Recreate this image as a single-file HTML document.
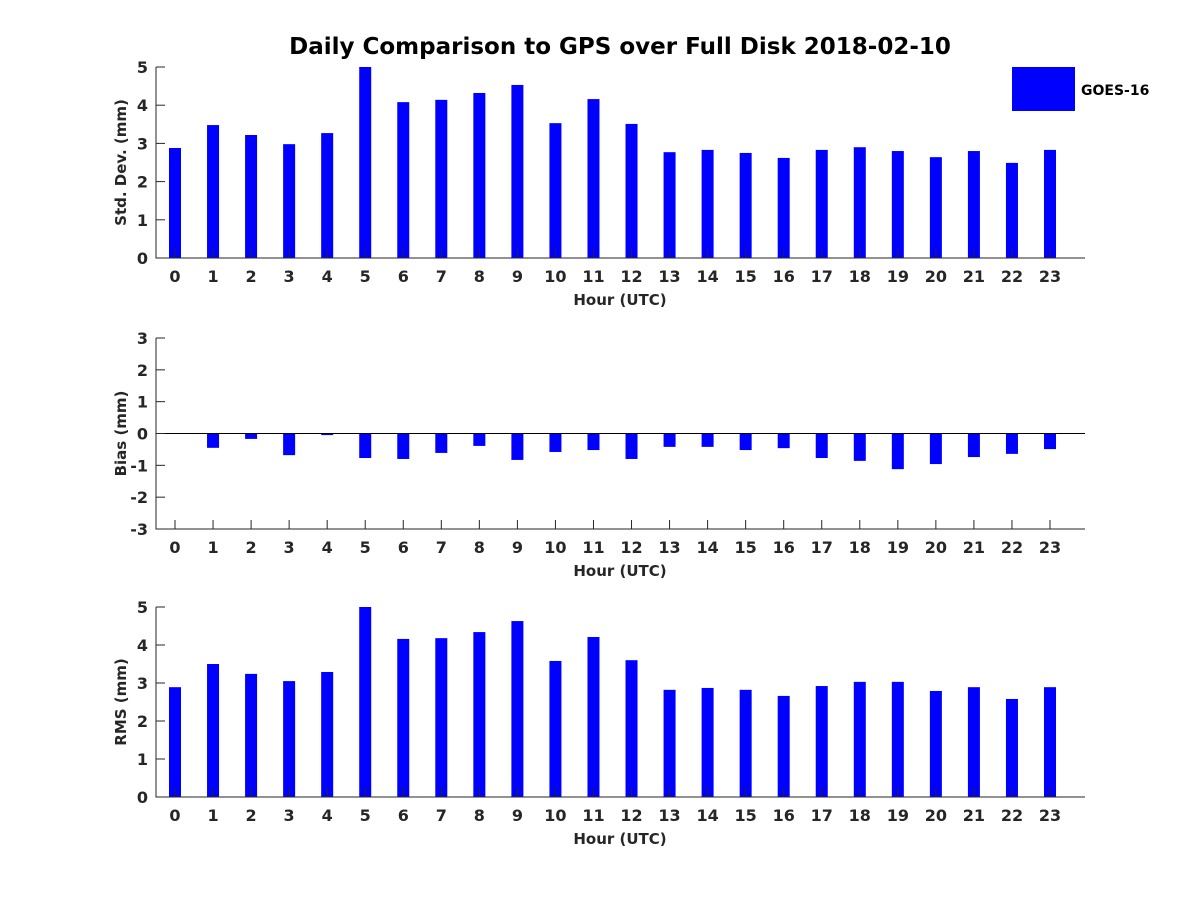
<!DOCTYPE html>
<html><head><meta charset="utf-8"><style>
body{margin:0;background:#fff}
svg{font-family:"DejaVu Sans","Liberation Sans",sans-serif;font-weight:bold}
</style></head><body>
<svg id="chart" width="1200" height="900" viewBox="0 0 1200 900">
<text x="620" y="54" text-anchor="middle" font-size="23" fill="#000">Daily Comparison to GPS over Full Disk 2018-02-10</text>
<rect x="1012" y="67" width="63" height="44" fill="#0000ff"/>
<text x="1081" y="95" font-size="14" fill="#000">GOES-16</text>
</svg>
<script>
const hours=[0,1,2,3,4,5,6,7,8,9,10,11,12,13,14,15,16,17,18,19,20,21,22,23];
const stdVals=[2.88,3.48,3.22,2.98,3.27,5.0,4.08,4.14,4.32,4.53,3.53,4.16,3.51,2.77,2.83,2.75,2.62,2.83,2.9,2.8,2.64,2.8,2.49,2.83];
const biasVals=[-0.01,-0.45,-0.17,-0.68,-0.05,-0.77,-0.8,-0.61,-0.39,-0.83,-0.58,-0.52,-0.8,-0.42,-0.42,-0.52,-0.46,-0.77,-0.86,-1.12,-0.96,-0.74,-0.64,-0.49];
const rmsVals=[2.89,3.5,3.24,3.05,3.29,5.0,4.16,4.18,4.34,4.63,3.58,4.21,3.6,2.82,2.87,2.82,2.66,2.92,3.03,3.03,2.79,2.89,2.58,2.89];
const stdTicks=[0,1,2,3,4,5];
const biasTicks=[-3,-2,-1,0,1,2,3];
const rmsTicks=[0,1,2,3,4,5];
const svg=document.getElementById('chart');
const NS='http://www.w3.org/2000/svg';
function mk(t,a){const e=document.createElementNS(NS,t);for(const k in a)e.setAttribute(k,a[k]);svg.appendChild(e);return e;}
function panel(id,top,bottom,ymin,ymax,vals,ticks,label,zeroLine){
  const x0=156,x1=1085;
  const xs=h=>175+h*(1050-175)/23;
  const ys=v=>bottom-(v-ymin)/(ymax-ymin)*(bottom-top);
  const g=mk('g',{});
  
  
  vals.forEach((v,i)=>{
    const y0=ys(Math.max(0,ymin)),y1=ys(v);
    const r=mk('rect',{x:xs(hours[i])-6,y:Math.min(y0,y1),width:12,height:Math.max(0.5,Math.abs(y1-y0)),fill:'#0000ff'});
    
    
  });
  if(zeroLine){const z=mk('line',{x1:x0,x2:x1,y1:ys(0),y2:ys(0),stroke:'#000','stroke-width':1});
    }
  const ax=mk('path',{d:`M${x0} ${top}V${bottom}H${x1}`,fill:'none',stroke:'#262626','stroke-width':1});
  
  
  ticks.forEach(t=>{
    mk('line',{x1:x0,x2:x0+9,y1:ys(t),y2:ys(t),stroke:'#262626'});
    const tx=mk('text',{x:x0-8,y:ys(t)+6,'text-anchor':'end','font-size':16,fill:'#262626'});
    tx.textContent=t;
    
    
  });
  hours.forEach(h=>{
    mk('line',{x1:xs(h),x2:xs(h),y1:bottom,y2:bottom-9,stroke:'#262626'});
    const tx=mk('text',{x:xs(h),y:bottom+24,'text-anchor':'middle','font-size':16,fill:'#262626'});
    tx.textContent=h;
    
    
  });
  const xl=mk('text',{x:620,y:bottom+47,'text-anchor':'middle','font-size':15,fill:'#262626'});
  xl.textContent='Hour (UTC)';
  
  
  const cy=(top+bottom)/2;
  const yl=mk('text',{x:0,y:0,'text-anchor':'middle','font-size':15,fill:'#262626',transform:`translate(126 ${cy}) rotate(-90)`});
  yl.textContent=label;
  
  
}
panel('std',67,258,0,5,stdVals,stdTicks,'Std. Dev. (mm)',false);
panel('bias',338,529,-3,3,biasVals,biasTicks,'Bias (mm)',true);
panel('rms',607,797,0,5,rmsVals,rmsTicks,'RMS (mm)',false);
</script>
</body></html>
